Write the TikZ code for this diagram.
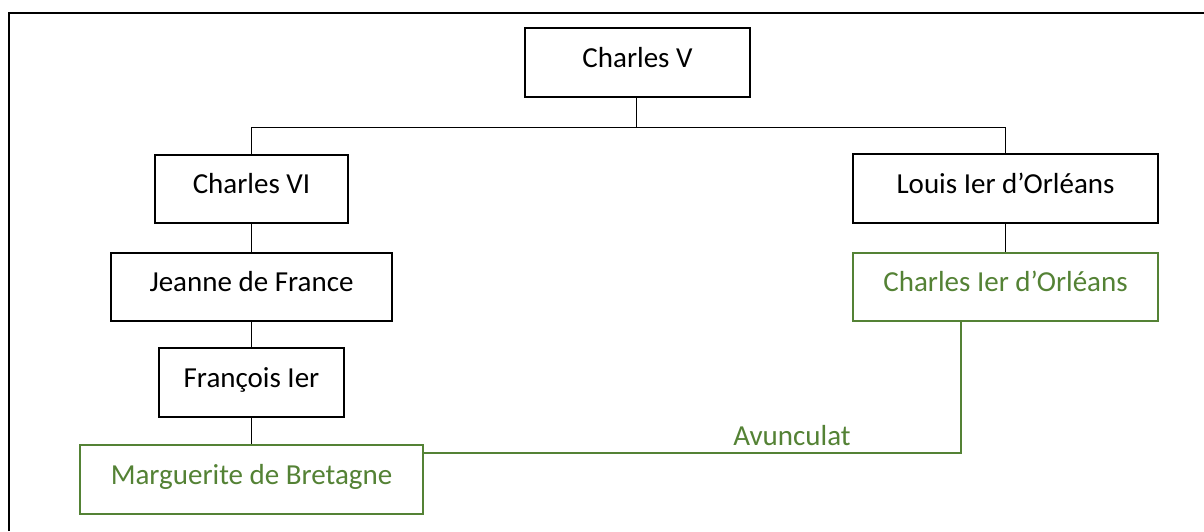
\documentclass[tikz,border=0pt]{standalone}
\usepackage{fontspec}
\setmainfont{Carlito}
\definecolor{avgreen}{RGB}{84,130,53}
\begin{document}
\begin{tikzpicture}[x=1pt,y=-1pt,
  person/.style={draw=black, line width=2.2pt, rectangle, inner sep=0pt,
    text height=20pt, text depth=11pt, font=\fontsize{29}{35}\selectfont},
  greenperson/.style={person, draw=avgreen, text=avgreen},
  link/.style={draw=black, line width=1pt},
  glink/.style={draw=avgreen, line width=1.3pt}]
\useasboundingbox (0,0) rectangle (1204,531);
\fill[white] (0,0) rectangle (1204,531);
% outer frame (left and top sides visible)
\draw[line width=2pt] (9,531) -- (9,13) -- (1204,13);

\node[person, minimum width=225pt, minimum height=69pt] (cv) at (637.5,62.5) {Charles V};
\node[person, minimum width=193pt, minimum height=68pt] (cvi) at (251.5,189) {Charles VI};
\node[person, minimum width=281pt, minimum height=68pt] (jeanne) at (251.5,287) {Jeanne de France};
\node[person, minimum width=185pt, minimum height=69pt] (fran) at (251.5,382.5) {François Ier};
\node[greenperson, minimum width=343pt, minimum height=69pt] (marg) at (251.5,479.5) {Marguerite de Bretagne};
\node[person, minimum width=305pt, minimum height=69pt] (louis) at (1005.5,188.5) {Louis Ier d’Orléans};
\node[greenperson, minimum width=305pt, minimum height=68pt] (ch1) at (1005.5,287) {Charles Ier d’Orléans};

\coordinate (bar) at (636,127.5);
\draw[link] (cv.south -| bar) -- (bar);
\draw[link] (cvi.north) |- (bar) -| (louis.north);
\draw[link] (cvi.south) -- (jeanne.north);
\draw[link] (jeanne.south) -- (fran.north);
\draw[link] (fran.south) -- (marg.north);
\draw[link] (louis.south) -- (ch1.south |- louis.south) -- (ch1.north);

\coordinate (av) at (961,453);
\draw[glink] (marg.east |- av) -- (av) -- (av |- ch1.south);
\node[anchor=base, text=avgreen, font=\fontsize{29}{35}\selectfont, inner sep=0pt] (avlabel) at (792,445) {Avunculat};
\end{tikzpicture}
\end{document}
